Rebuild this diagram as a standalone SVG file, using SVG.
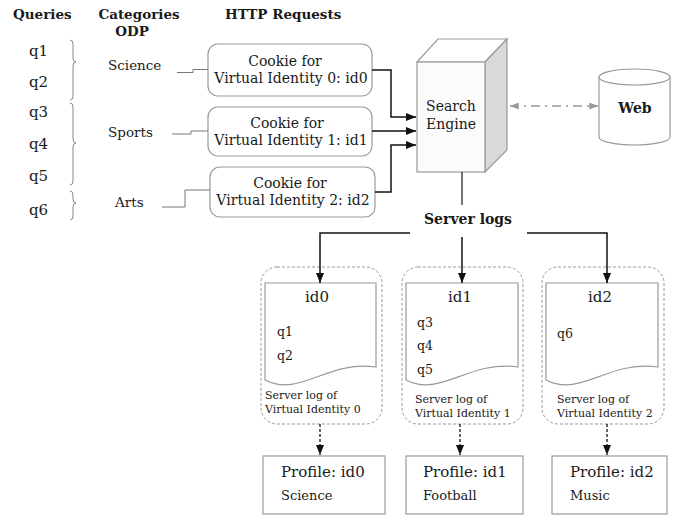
<svg xmlns="http://www.w3.org/2000/svg" width="677" height="517" viewBox="0 0 677 517">
  <style>
    text { font-family: "DejaVu Serif", "Liberation Serif", serif; fill: #1a1a1a; }
    .hdr { font-weight: bold; font-size: 13.5px; }
    .q { font-size: 15px; }
    .cat { font-size: 13.5px; }
    .ck { font-size: 14px; text-anchor: middle; }
    .eng { font-size: 14px; text-anchor: middle; }
    .web { font-size: 14px; font-weight: bold; text-anchor: middle; }
    .logs { font-size: 14px; font-weight: bold; text-anchor: middle; }
    .id { font-size: 15px; text-anchor: middle; }
    .dq { font-size: 12.5px; }
    .cap { font-size: 11px; }
    .pt { font-size: 15px; }
    .pv { font-size: 13px; }
    .brace { fill: none; stroke: #888; stroke-width: 1; }
    .box { fill: #fff; stroke: #999; stroke-width: 1.2; }
    .cont { fill: none; stroke: #999; stroke-width: 1; stroke-dasharray: 3 2; }
    .thin { fill: none; stroke: #777; stroke-width: 1; }
    .arr { fill: none; stroke: #111; stroke-width: 1.5; marker-end: url(#ah); }
    .darr { fill: none; stroke: #111; stroke-width: 1.3; stroke-dasharray: 3 2; marker-end: url(#ah); }
  </style>
  <defs>
    <marker id="ah" viewBox="0 0 10 8" refX="10" refY="4" markerWidth="10" markerHeight="8" orient="auto" markerUnits="userSpaceOnUse">
      <path d="M0,0 L10,4 L0,8 Z" fill="#111"/>
    </marker>
    <marker id="gh" viewBox="0 0 10 8" refX="10" refY="4" markerWidth="9" markerHeight="7" orient="auto-start-reverse" markerUnits="userSpaceOnUse">
      <path d="M0,0 L10,4 L0,8 Z" fill="#999"/>
    </marker>
  </defs>

  <!-- column headers -->
  <g id="headers">
    <text class="hdr" x="13" y="19">Queries</text>
    <text class="hdr" x="139" y="19" text-anchor="middle">Categories</text>
    <text class="hdr" x="132" y="36" text-anchor="middle">ODP</text>
    <text class="hdr" x="225" y="19">HTTP Requests</text>
  </g>

  <!-- queries and braces -->
  <g id="queries">
    <text class="q" x="29" y="56">q1</text>
    <text class="q" x="29" y="87">q2</text>
    <text class="q" x="29" y="117">q3</text>
    <text class="q" x="29" y="149">q4</text>
    <text class="q" x="29" y="181">q5</text>
    <text class="q" x="29" y="215">q6</text>
    <path class="brace" d="M70,40 Q73,40 73,44 V58 Q73,62 76,62 Q73,62 73,66 V96 Q73,100 70,100"/>
    <path class="brace" d="M70,103 Q73,103 73,107 V139 Q73,143 76,143 Q73,143 73,147 V181 Q73,185 70,185"/>
    <path class="brace" d="M70,191 Q73,191 73,195 V199 Q73,203 76,203 Q73,203 73,207 V216 Q73,220 70,220"/>
  </g>

  <!-- categories -->
  <g id="categories">
    <text class="cat" x="108" y="70">Science</text>
    <text class="cat" x="108" y="137">Sports</text>
    <text class="cat" x="115" y="207">Arts</text>
  </g>

  <!-- cookie requests -->
  <g id="cookie0">
    <rect class="box" x="208" y="44" width="164" height="52" rx="10"/>
    <text class="ck" x="285" y="66">Cookie for</text>
    <text class="ck" x="291" y="83">Virtual Identity 0: id0</text>
  </g>
  <g id="cookie1">
    <rect class="box" x="208" y="107" width="164" height="49" rx="10"/>
    <text class="ck" x="287" y="128">Cookie for</text>
    <text class="ck" x="291" y="145">Virtual Identity 1: id1</text>
  </g>
  <g id="cookie2">
    <rect class="box" x="210" y="167" width="165" height="50" rx="10"/>
    <text class="ck" x="290" y="188">Cookie for</text>
    <text class="ck" x="293" y="205">Virtual Identity 2: id2</text>
  </g>

  <!-- search engine block -->
  <g id="engine">
    <polygon points="417,62 438,39 507,39 485,62" fill="#fff" stroke="#999" stroke-width="1.2"/>
    <polygon points="485,62 507,39 507,150 485,172" fill="#d9d9d9" stroke="#999" stroke-width="1.2"/>
    <rect x="417" y="62" width="68" height="110" fill="#fbfbfb" stroke="#999" stroke-width="1.2"/>
    <text class="eng" x="451" y="111">Search</text>
    <text class="eng" x="451" y="129">Engine</text>
  </g>

  <!-- web store -->
  <g id="web">
    <path d="M599,77 V137 A35.5,8 0 0 0 670,137 V77" fill="#fff" stroke="#999" stroke-width="1.2"/>
    <ellipse cx="634.5" cy="77" rx="35.5" ry="8" fill="#fff" stroke="#999" stroke-width="1.2"/>
    <text class="web" x="635" y="113">Web</text>
  </g>

  <!-- server logs label -->
  <g id="serverlogs">
    <text class="logs" x="468" y="224">Server logs</text>
  </g>

  <!-- per-identity logs -->
  <g id="log0">
    <rect class="cont" x="261" y="267" width="121" height="157" rx="16"/>
    <path class="box" d="M265,283 H376 V367 C326,360 300,398 265,380 Z"/>
    <text class="id" x="317" y="302">id0</text>
    <text class="dq" x="277" y="336">q1</text>
    <text class="dq" x="277" y="360">q2</text>
    <text class="cap" x="265" y="399">Server log of</text>
    <text class="cap" x="265" y="413">Virtual Identity 0</text>
  </g>
  <g id="log1">
    <rect class="cont" x="402" y="267" width="121" height="157" rx="16"/>
    <path class="box" d="M406,283 H518 V367 C468,360 441,398 406,380 Z"/>
    <text class="id" x="460" y="302">id1</text>
    <text class="dq" x="417" y="327">q3</text>
    <text class="dq" x="417" y="350">q4</text>
    <text class="dq" x="417" y="374">q5</text>
    <text class="cap" x="415" y="403">Server log of</text>
    <text class="cap" x="415" y="417">Virtual Identity 1</text>
  </g>
  <g id="log2">
    <rect class="cont" x="542" y="267" width="122" height="157" rx="16"/>
    <path class="box" d="M546,283 H658 V367 C608,360 581,398 546,380 Z"/>
    <text class="id" x="600" y="302">id2</text>
    <text class="dq" x="557" y="338">q6</text>
    <text class="cap" x="557" y="403">Server log of</text>
    <text class="cap" x="557" y="417">Virtual Identity 2</text>
  </g>

  <!-- profiles -->
  <g id="profile0">
    <rect class="box" x="263" y="456" width="122" height="58"/>
    <text class="pt" x="281" y="477">Profile: id0</text>
    <text class="pv" x="281" y="500">Science</text>
  </g>
  <g id="profile1">
    <rect class="box" x="406" y="456" width="117" height="58"/>
    <text class="pt" x="423" y="477">Profile: id1</text>
    <text class="pv" x="423" y="500">Football</text>
  </g>
  <g id="profile2">
    <rect class="box" x="552" y="456" width="115" height="58"/>
    <text class="pt" x="570" y="477">Profile: id2</text>
    <text class="pv" x="570" y="500">Music</text>
  </g>

  <!-- connectors -->
  <g id="connectors">
    <path class="thin" d="M177,72.5 H193 V69.5 H208"/>
    <path class="thin" d="M172,134 H191 V131 H208"/>
    <path class="thin" d="M162,207 H185 V190 H210"/>
    <path class="arr" d="M372,70 H391 V117 H416"/>
    <path class="arr" d="M372,131 H416"/>
    <path class="arr" d="M375,192 H391 V145 H416"/>
    <path d="M510,106 H598" fill="none" stroke="#999" stroke-width="1.3" stroke-dasharray="9 5 2 5" marker-start="url(#gh)" marker-end="url(#gh)"/>
    <path d="M462,172 V205" fill="none" stroke="#444" stroke-width="1.5"/>
    <path class="arr" d="M410,233 H320 V283"/>
    <path class="arr" d="M462,237 V283"/>
    <path class="arr" d="M527,233 H607 V283"/>
    <path class="darr" d="M320,424 V455"/>
    <path class="darr" d="M460,424 V455"/>
    <path class="darr" d="M607,424 V455"/>
  </g>
</svg>
